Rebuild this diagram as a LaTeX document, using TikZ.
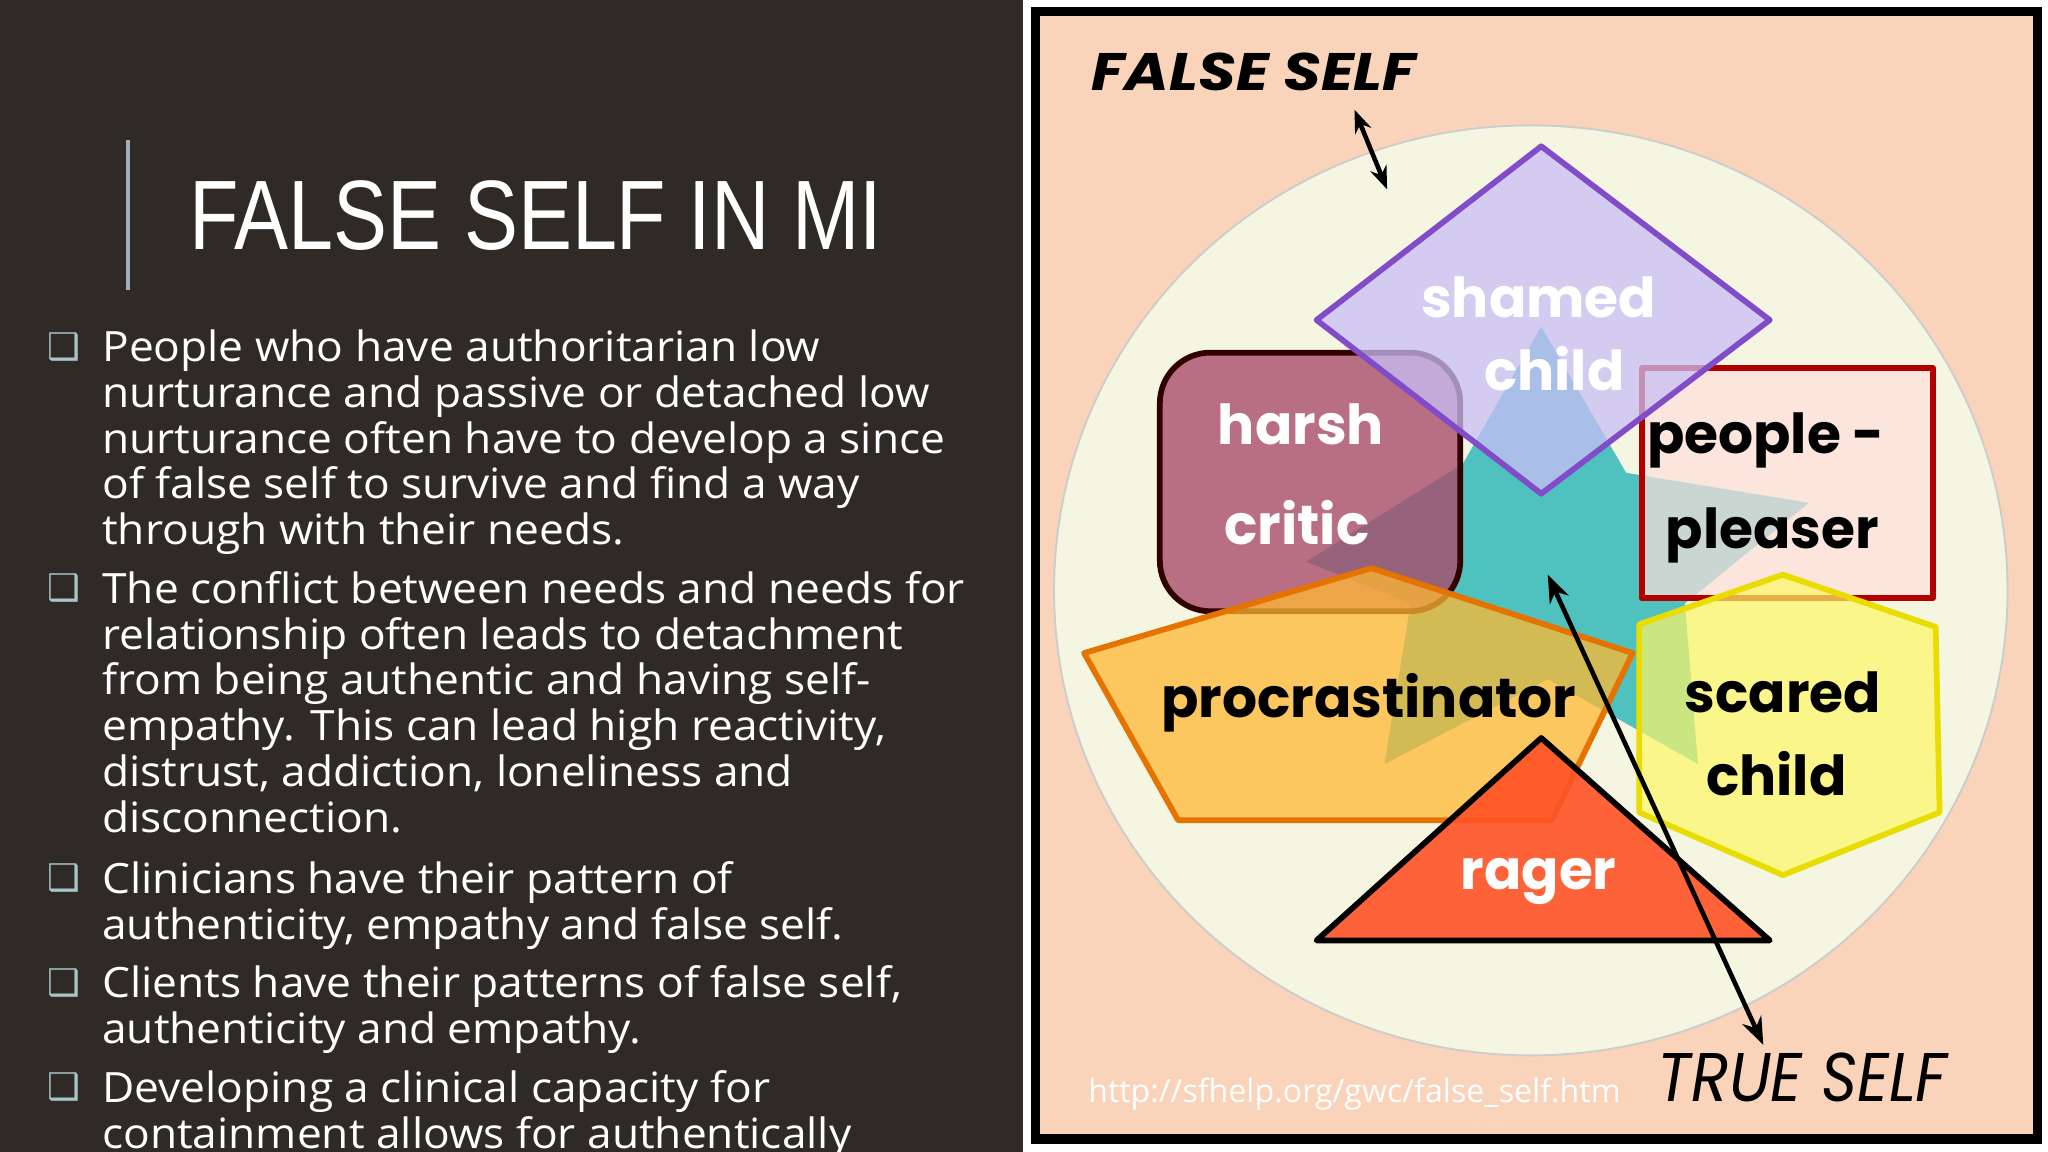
\documentclass[tikz,border=0pt]{standalone}
\usepackage{fontspec}
\setmainfont{Open Sans}
\newfontfamily\titlefont{Liberation Sans}
\newfontfamily\labfont{Poppins}
\newfontfamily\symfont{DejaVu Sans}
\usetikzlibrary{arrows.meta}
\definecolor{darkbg}{HTML}{2F2A25}
\definecolor{peach}{HTML}{F9D3BA}
\definecolor{cream}{HTML}{F4F6E2}
\definecolor{bullc}{HTML}{A9C5C9}
\tikzset{
  bodytxt/.style={anchor=base west,text=white,inner sep=0pt,xscale=1.06,font=\fontsize{18.2}{20}\selectfont},
  bullet/.style={anchor=base west,text=bullc,inner sep=0pt,font=\symfont\fontsize{16}{18}\selectfont},
  lab/.style={inner sep=0pt,font=\labfont\bfseries\fontsize{24}{30}\selectfont},
  wlab/.style={lab,text=white},
  blab/.style={lab,text=black},
  piece/.style={line width=2.5pt,line join=round},
}
\begin{document}
\begin{tikzpicture}[x=0.02cm,y=-0.02cm]
\useasboundingbox (0,0) rectangle (1568,882);
\fill[darkbg] (0,0) rectangle (783,882);
\fill[white] (783,0) rectangle (1568,882);
% left
\draw[bullc!70!gray,line width=1.5pt] (98,107) -- (98,222);
\node[anchor=west,text=white,inner sep=0pt,xscale=0.82] (title) at (145,165) {\titlefont\fontsize{43}{50}\selectfont FALSE SELF IN MI};
\foreach \y/\t [count=\i] in {
277/People who have authoritarian low,
312/nurturance and passive or detached low,
347/nurturance often have to develop a since,
382/of false self to survive and find a way,
417/through with their needs.,
462/The conflict between needs and needs for,
497/relationship often leads to detachment,
532/from being authentic and having self{-},
567/empathy. This can lead high reactivity{,},
602/distrust{,} addiction{,} loneliness and,
637/disconnection.,
684/Clinicians have their pattern of,
719/authenticity{,} empathy and false self.,
764/Clients have their patterns of false self{,},
799/authenticity and empathy.,
844/Developing a clinical capacity for,
879/containment allows for authentically}
  \node[bodytxt] (l\i) at (78,\y) {\t};
\foreach \y [count=\i] in {275,460,682,762,842}
  \node[bullet] (b\i) at (36,\y) {❑};
% right frame
\draw[black,line width=4pt,fill=peach] (793,9) rectangle (1560,872);
\fill[cream] (1172,452) ellipse [x radius=365,y radius=356];
\draw[gray!40,line width=0.8pt] (1172,452) ellipse [x radius=365,y radius=356];
% star
\fill[teal!70!cyan!80!white,fill opacity=0.85] (1180,250) -- (1245,362) -- (1385,385) -- (1290,462) -- (1300,585) -- (1185,520) -- (1060,585) -- (1080,462) -- (1000,430) -- (1120,355) -- cycle;
% harsh critic
\draw[piece,draw=black!80!red,fill=purple!70!black!70!white,fill opacity=0.8,rounded corners=22] (888,270) rectangle (1118,468);
\node[wlab] (hc1) at (996,325) {harsh};
\node[wlab] (hc2) at (993,400) {critic};
% people pleaser
\draw[piece,draw=red!70!black,fill=peach!70!red!30!white,fill opacity=0.7] (1257,282) rectangle (1480,458);
\node[blab] (pp1) at (1352,337) {people -};
\node[blab] (pp2) at (1357,410) {pleaser};
% shamed child
\draw[piece,draw=violet!60!blue!70!white,fill=violet!30!blue!25!white,fill opacity=0.75] (1180,112) -- (1355,245) -- (1180,378) -- (1008,245) -- cycle;
\node[wlab] (sc1) at (1178,228) {shamed};
\node[wlab] (sc2) at (1190,282) {child};
% procrastinator
\draw[piece,draw=orange!90!black,fill=orange!70!yellow!80!white,fill opacity=0.75] (830,500) -- (1050,435) -- (1250,500) -- (1188,628) -- (902,628) -- cycle;
\node[blab] (pr) at (1048,538) {procrastinator};
% scared child
\draw[piece,draw=yellow!80!olive,fill=yellow!60!white,fill opacity=0.7] (1255,478) -- (1365,440) -- (1482,480) -- (1485,622) -- (1365,670) -- (1255,622) -- cycle;
\node[blab] (sk1) at (1365,530) {scared};
\node[blab] (sk2) at (1360,592) {child};
% rager
\draw[piece,draw=black,fill=red!60!orange!85!white,fill opacity=0.9] (1180,565) -- (1355,720) -- (1008,720) -- cycle;
\node[wlab] (rg) at (1178,675) {rager};
% labels
\node[inner sep=0pt,xscale=1.15,font=\labfont\bfseries\itshape\fontsize{23}{26}\selectfont] (fs) at (960,55) {FALSE SELF};
\node[inner sep=0pt,font=\labfont\itshape\fontsize{30}{32}\selectfont,xscale=0.9] (ts) at (1380,825) {TRUE SELF};
\node[inner sep=0pt,text=white,font=\fontsize{14}{16}\selectfont] (url) at (1037,838) {http://sfhelp.org/gwc/false\_self.htm};
\coordinate (fa) at (1037,84);
\coordinate (fb) at (1062,145);
\draw[line width=2pt,{Stealth[length=10pt]}-{Stealth[length=10pt]}] (fa) -- (fb);
\coordinate (ta) at (1185,440);
\coordinate (tb) at (1350,800);
\draw[line width=2pt,{Stealth[length=12pt]}-{Stealth[length=12pt]}] (ta) -- (tb);
\end{tikzpicture}
\end{document}
